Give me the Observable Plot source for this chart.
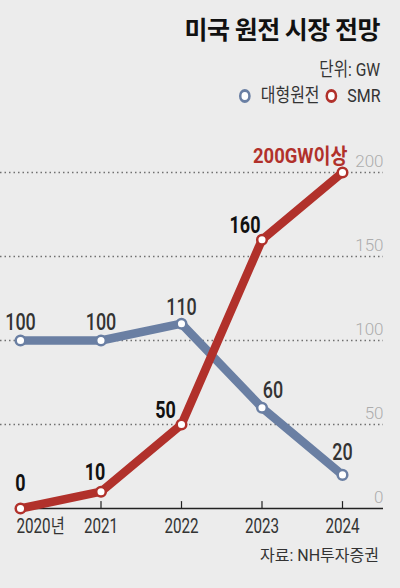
<!DOCTYPE html>
<html><head><meta charset="utf-8">
<script src="https://cdn.jsdelivr.net/npm/d3@7"></script>
<script src="https://cdn.jsdelivr.net/npm/@observablehq/plot@0.6"></script>
<style>
html,body{margin:0;padding:0;background:#ececec;}
body{width:400px;height:588px;position:relative;overflow:hidden;font-family:Roboto,"Noto Sans CJK KR",sans-serif;}
#title{position:absolute;right:20px;top:13px;font-family:"Noto Sans CJK KR",sans-serif;font-weight:700;font-size:25px;letter-spacing:-0.5px;color:#111;line-height:1.2;}
#unit{position:absolute;right:20px;top:59px;font-size:19px;color:#333;line-height:1.2;transform:scaleX(0.82);transform-origin:right center;}
#legend{position:absolute;right:20px;top:85px;font-size:19px;color:#333;line-height:1.2;display:flex;align-items:center;transform:scaleX(0.84);transform-origin:right center;}
.sw{display:inline-block;width:8px;height:8px;border-radius:50%;border:3.5px solid;background:#fff;margin-right:12px;}
.gap{display:inline-block;width:7px;}
#chart{position:absolute;left:0;top:110px;}
#source{position:absolute;right:21px;top:546px;font-size:16px;color:#333;line-height:1.2;}
</style></head>
<body>
<div id="title">미국 원전 시장 전망</div>
<div id="unit">단위: GW</div>
<div id="legend"><span class="sw" style="border-color:#6a7fa3"></span>대형원전<span class="gap"></span><span class="sw" style="border-color:#b1312b"></span>SMR</div>
<div id="chart"></div>
<div id="source">자료: NH투자증권</div>
<script>
const years = [2020, 2021, 2022, 2023, 2024];
const yearLabels = ["2020년", "2021", "2022", "2023", "2024"];
const largeReactor = [100, 100, 110, 60, 20];
const smr = [0, 10, 50, 160, 200];
const yTicks = [0, 50, 100, 150, 200];
const gridTicks = [50, 100, 150, 200];
const seriesNames = ["대형원전", "SMR"];

const BLUE = "#6a7fa3", RED = "#b1312b", GRAYTICK = "#acacac";
const blue = years.map((y, i) => ({year: y, value: largeReactor[i], series: seriesNames[0]}));
const red = years.map((y, i) => ({year: y, value: smr[i], series: seriesNames[1]}));
const ticks = years.map((y, i) => ({year: y, label: yearLabels[i]}));

const FONT = "Roboto, Noto Sans CJK KR, sans-serif";
const lab = (rows, opts) => Plot.text(rows, {
  x: "year", y: "value", text: d => String(d.value), lineAnchor: "bottom",
  fontFamily: FONT, fontSize: 23, ...opts
});

const chart = Plot.plot({
  width: 400, height: 430,
  marginLeft: 20, marginRight: 58, marginTop: 62, marginBottom: 32,
  x: {domain: [2020, 2024], axis: null},
  y: {domain: [0, 200], axis: null},
  style: {background: "transparent", overflow: "visible"},
  marks: [
    Plot.ruleY(gridTicks, {y: d => d, stroke: "#707070", strokeWidth: 1.3, strokeDasharray: "1.5,3", insetLeft: -20, insetRight: -41}),
    Plot.text(yTicks, {y: d => d, text: d => String(d), frameAnchor: "right", textAnchor: "end", lineAnchor: "bottom", dx: 41, dy: -6, fill: GRAYTICK, fontSize: 17, fontWeight: 300, fontFamily: FONT}),
    Plot.ruleY([0], {stroke: "#222", strokeWidth: 1.5, insetLeft: -5, insetRight: -41}),
    Plot.vector(years.slice(1), {x: d => d, y: 0, length: 7, rotate: 0, anchor: "start", stroke: "#222", strokeWidth: 1.2,
      shape: {draw(context, l) { context.moveTo(0, 0); context.lineTo(0, -l); }}}),
    Plot.text(ticks.slice(0, 1), {x: "year", y: 0, text: "label", textAnchor: "start", lineAnchor: "bottom", dx: -4, dy: 24, fill: "#333", fontSize: 19.5, fontFamily: FONT}),
    Plot.text(ticks.slice(1), {x: "year", y: 0, text: "label", lineAnchor: "bottom", dy: 24, fill: "#333", fontSize: 19.5, fontFamily: FONT}),
    Plot.line(blue, {x: "year", y: "value", stroke: BLUE, strokeWidth: 8.5}),
    Plot.line(red, {x: "year", y: "value", stroke: RED, strokeWidth: 8.5}),
    Plot.dot(blue, {x: "year", y: "value", r: 4.8, fill: "#fff", stroke: BLUE, strokeWidth: 2.5}),
    Plot.dot(red, {x: "year", y: "value", r: 4.8, fill: "#fff", stroke: RED, strokeWidth: 2.5}),
    lab(blue.slice(0, 2), {dy: -11, fill: "#333", fontWeight: 500}),
    lab(blue.slice(2, 3), {dy: -9, fill: "#333", fontWeight: 500}),
    lab(blue.slice(3, 4), {dx: 11, dy: -10, fill: "#333", fontWeight: 500}),
    lab(blue.slice(4, 5), {dy: -15, fill: "#333", fontWeight: 500}),
    lab(red.slice(0, 1), {dy: -18, fill: "#111", fontWeight: "bold"}),
    lab(red.slice(1, 2), {dx: -6, dy: -12, fill: "#111", fontWeight: "bold"}),
    lab(red.slice(2, 3), {dx: -16, dy: -7, fill: "#111", fontWeight: "bold"}),
    lab(red.slice(3, 4), {dx: -17, dy: -7, fill: "#111", fontWeight: "bold"}),
    lab(red.slice(4, 5), {text: d => d.value + "GW이상", textAnchor: "end", dx: 5, dy: -10, fill: RED, fontWeight: "bold", fontSize: 21})
  ]
});
document.getElementById("chart").appendChild(chart);

// condense label typography (the reference uses a narrow typeface)
chart.querySelectorAll("text").forEach(t => {
  const g = t.closest("g[fill]");
  const fill = g ? g.getAttribute("fill") : null;
  if (fill === GRAYTICK) return;
  const s = fill === RED ? 0.88 : 0.78;
  const tr = t.getAttribute("transform");
  if (tr) t.setAttribute("transform", tr + ` scale(${s},1)`);
  else {
    const x = +t.getAttribute("x") || 0, y = +t.getAttribute("y") || 0;
    t.setAttribute("transform", `translate(${x},${y}) scale(${s},1) translate(${-x},${-y})`);
  }
});
</script>
</body></html>
